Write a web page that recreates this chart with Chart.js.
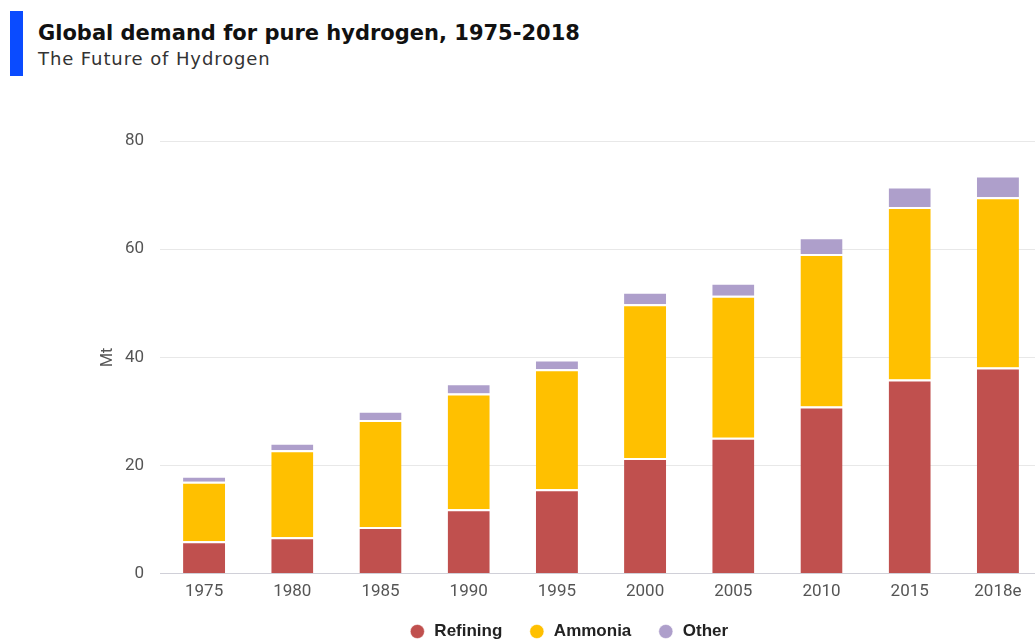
<!DOCTYPE html>
<html>
<head>
<meta charset="utf-8">
<script src="https://cdn.jsdelivr.net/npm/chart.js@4"></script>
<style>
    html, body { margin: 0; padding: 0; background: #fff; overflow: hidden; }
    body { width: 1035px; height: 641px; position: relative; }
    .bar { position: absolute; left: 10px; top: 11px; width: 13px; height: 65px; background: #0a4bff; }
    .title { position: absolute; left: 38px; top: 21px; font: bold 21px "DejaVu Sans", sans-serif; color: #111; white-space: nowrap; }
    .subtitle { position: absolute; left: 38px; top: 48px; font: 18px "DejaVu Sans", sans-serif; letter-spacing: 0.9px; color: #333; white-space: nowrap; }
    .wrap { position: absolute; left: 0; top: 0; width: 1045px; height: 650px; }
</style>
</head>
<body>
<div class="bar"></div>
<div class="title">Global demand for pure hydrogen, 1975-2018</div>
<div class="subtitle">The Future of Hydrogen</div>
<div class="wrap"><canvas id="hydrogen"></canvas></div>
<script>
// 연도별 수소 수요 (Mt)
const years = ['1975', '1980', '1985', '1990', '1995', '2000', '2005', '2010', '2015', '2018e'];
const refining = [6.0, 6.7, 8.6, 11.9, 15.6, 21.4, 25.1, 30.9, 35.9, 38.1];
const ammonia = [11.0, 16.1, 19.8, 21.4, 22.2, 28.4, 26.3, 28.2, 31.9, 31.5];
const other = [1.1, 1.4, 1.7, 1.9, 1.8, 2.3, 2.4, 3.1, 3.8, 4.0];
const yTicks = [0, 20, 40, 60, 80];

const tickFont = { family: 'Roboto', size: 17 };

const ctx = document.getElementById('hydrogen').getContext('2d');
new Chart(ctx, {
    type: 'bar',
    data: {
        labels: years,
        datasets: [
            { label: 'Refining', data: refining, backgroundColor: '#c0504e' },
            { label: 'Ammonia', data: ammonia, backgroundColor: '#ffc000' },
            { label: 'Other', data: other, backgroundColor: '#ae9fcb' }
        ].map(ds => Object.assign(ds, {
            borderColor: '#ffffff',
            borderWidth: { top: 2, left: 0, right: 0, bottom: 0 },
            borderSkipped: false,
            categoryPercentage: 1,
            barPercentage: 0.477
        }))
    },
    options: {
        responsive: true,
        maintainAspectRatio: false,
        animation: false,
        layout: { padding: { top: 141, left: 95, right: 3, bottom: 0 } },
        plugins: {
            tooltip: { enabled: false },
            legend: {
                position: 'bottom',
                labels: {
                    usePointStyle: true,
                    pointStyle: 'circle',
                    boxWidth: 17,
                    boxHeight: 10,
                    padding: 26,
                    color: '#222',
                    font: { family: 'Liberation Sans', size: 17, weight: 'bold' }
                }
            }
        },
        scales: {
            x: {
                stacked: true,
                grid: { display: false, drawTicks: false },
                border: { display: false },
                ticks: { color: '#555', font: tickFont, padding: 8, maxRotation: 0 },
                afterFit: scale => { scale.height -= 13; } // 범례를 축 가까이
            },
            y: {
                stacked: true,
                min: 0,
                max: 80,
                afterBuildTicks: scale => { scale.ticks = yTicks.map(v => ({ value: v })); },
                afterFit: scale => { scale.width = 65; },
                grid: {
                    drawTicks: false,
                    color: ctx => ctx.tick.value === 0 ? '#d0d0d8' : '#e8e8e8',
                    lineWidth: 1
                },
                border: { display: false },
                ticks: { color: '#555', font: tickFont, padding: 16 },
                title: {
                    display: true,
                    text: 'Mt',
                    color: '#555',
                    font: { family: 'Roboto', size: 16 },
                    padding: { top: 3, bottom: 0 }
                }
            }
        }
    }
});
</script>
</body>
</html>
